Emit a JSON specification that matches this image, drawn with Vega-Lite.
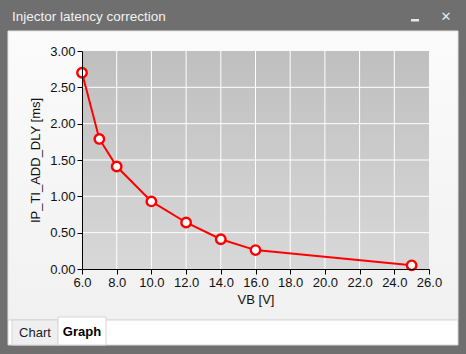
{
  "$schema": "https://vega.github.io/schema/vega-lite/v6.json",
  "autosize": {"type": "none"},
  "width": 347,
  "height": 218,
  "padding": {"left": 82, "top": 51, "right": 37, "bottom": 85},
  "background": "#6f6f6f",
  "title": {
    "text": "Injector latency correction",
    "anchor": "start",
    "frame": "group",
    "dx": -70,
    "dy": 17,
    "color": "#f2f2f2",
    "font": "Liberation Sans",
    "fontSize": 13.5,
    "fontWeight": "normal"
  },
  "config": {
    "view": {"stroke": null},
    "axis": {"labelFont": "Liberation Sans", "titleFont": "Liberation Sans", "labelOverlap": false, "labelFlush": false, "grid": false, "domainColor": "#000000", "tickColor": "#000000", "tickSize": 5, "labelColor": "#111111", "labelFontSize": 13, "labelPadding": 2, "titleFontSize": 13, "titleFontWeight": "normal", "titleColor": "#111111"},
    "axisX": {"titlePadding": 4},
    "axisY": {"titlePadding": 7}
  },
  "layer": [
    {
      "data": {"values": [{}]},
      "mark": {"type": "rect", "fill": {"gradient": "linear", "x1": 0, "y1": 0, "x2": 0, "y2": 1, "stops": [{"offset": 0, "color": "#fbfbfb"}, {"offset": 1, "color": "#f1f1f1"}]}, "stroke": "#e2e2e2", "strokeWidth": 1},
      "encoding": {
        "x": {"datum": 1.735, "type": "quantitative", "scale": {"domain": [6, 26], "nice": false, "zero": false}, "axis": {"values": [6, 8, 10, 12, 14, 16, 18, 20, 22, 24, 26], "format": ".1f", "labelOverlap": false, "title": "VB [V]", "zindex": 1}},
        "x2": {"datum": 27.671},
        "y": {"datum": 3.2752, "type": "quantitative", "scale": {"domain": [0, 3], "nice": false, "zero": false}, "axis": {"values": [0, 0.5, 1, 1.5, 2, 2.5, 3], "format": ".2f", "labelOverlap": false, "title": "IP_TI_ADD_DLY [ms]", "zindex": 1}},
        "y2": {"datum": -0.7018}
      }
    },
    {
      "data": {"values": [{}]},
      "mark": {"type": "rect", "fill": "#ffffff", "stroke": "#d6d6d6", "strokeWidth": 1},
      "encoding": {
        "x": {"datum": 1.735, "type": "quantitative", "axis": {"values": [6, 8, 10, 12, 14, 16, 18, 20, 22, 24, 26], "format": ".1f", "labelOverlap": false, "title": "VB [V]", "zindex": 1}},
        "x2": {"datum": 27.671},
        "y": {"datum": -0.7018, "type": "quantitative", "axis": {"values": [0, 0.5, 1, 1.5, 2, 2.5, 3], "format": ".2f", "labelOverlap": false, "title": "IP_TI_ADD_DLY [ms]", "zindex": 1}},
        "y2": {"datum": -1.0459}
      }
    },
    {
      "data": {"values": [{}]},
      "mark": {"type": "rect", "fill": "#efefef", "stroke": "#d6d6d6", "strokeWidth": 1},
      "encoding": {
        "x": {"datum": 1.965, "type": "quantitative", "axis": {"values": [6, 8, 10, 12, 14, 16, 18, 20, 22, 24, 26], "format": ".1f", "labelOverlap": false, "title": "VB [V]", "zindex": 1}},
        "x2": {"datum": 4.617},
        "y": {"datum": -0.7018, "type": "quantitative", "axis": {"values": [0, 0.5, 1, 1.5, 2, 2.5, 3], "format": ".2f", "labelOverlap": false, "title": "IP_TI_ADD_DLY [ms]", "zindex": 1}},
        "y2": {"datum": -1.0459}
      }
    },
    {
      "data": {"values": [{}]},
      "mark": {"type": "rect", "fill": "#ffffff", "stroke": "#d6d6d6", "strokeWidth": 1},
      "encoding": {
        "x": {"datum": 4.617, "type": "quantitative", "axis": {"values": [6, 8, 10, 12, 14, 16, 18, 20, 22, 24, 26], "format": ".1f", "labelOverlap": false, "title": "VB [V]", "zindex": 1}},
        "x2": {"datum": 7.383},
        "y": {"datum": -0.6606, "type": "quantitative", "axis": {"values": [0, 0.5, 1, 1.5, 2, 2.5, 3], "format": ".2f", "labelOverlap": false, "title": "IP_TI_ADD_DLY [ms]", "zindex": 1}},
        "y2": {"datum": -1.0459}
      }
    },
    {
      "data": {"values": [{"tab": "Chart"}]},
      "mark": {"type": "text", "font": "Liberation Sans", "fontSize": 13, "color": "#1a1a2a", "baseline": "middle", "align": "center"},
      "encoding": {
        "x": {"datum": 3.291, "type": "quantitative", "axis": {"values": [6, 8, 10, 12, 14, 16, 18, 20, 22, 24, 26], "format": ".1f", "labelOverlap": false, "title": "VB [V]", "zindex": 1}},
        "y": {"datum": -0.881, "type": "quantitative", "axis": {"values": [0, 0.5, 1, 1.5, 2, 2.5, 3], "format": ".2f", "labelOverlap": false, "title": "IP_TI_ADD_DLY [ms]", "zindex": 1}},
        "text": {"field": "tab"}
      }
    },
    {
      "data": {"values": [{"tab": "Graph"}]},
      "mark": {"type": "text", "font": "Liberation Sans", "fontSize": 13, "fontWeight": "bold", "color": "#000000", "baseline": "middle", "align": "center"},
      "encoding": {
        "x": {"datum": 6.0, "type": "quantitative", "axis": {"values": [6, 8, 10, 12, 14, 16, 18, 20, 22, 24, 26], "format": ".1f", "labelOverlap": false, "title": "VB [V]", "zindex": 1}},
        "y": {"datum": -0.867, "type": "quantitative", "axis": {"values": [0, 0.5, 1, 1.5, 2, 2.5, 3], "format": ".2f", "labelOverlap": false, "title": "IP_TI_ADD_DLY [ms]", "zindex": 1}},
        "text": {"field": "tab"}
      }
    },
    {
      "data": {"values": [{}]},
      "mark": {"type": "rect", "fill": {"gradient": "linear", "x1": 0, "y1": 0, "x2": 0, "y2": 1, "stops": [{"offset": 0, "color": "#bfbfbf"}, {"offset": 1, "color": "#d8d8d8"}]}},
      "encoding": {
        "x": {"datum": 6, "type": "quantitative", "axis": {"values": [6, 8, 10, 12, 14, 16, 18, 20, 22, 24, 26], "format": ".1f", "labelOverlap": false, "title": "VB [V]", "zindex": 1}},
        "x2": {"datum": 26},
        "y": {"datum": 3, "type": "quantitative", "axis": {"values": [0, 0.5, 1, 1.5, 2, 2.5, 3], "format": ".2f", "labelOverlap": false, "title": "IP_TI_ADD_DLY [ms]", "zindex": 1}},
        "y2": {"datum": 0}
      }
    },
    {
      "data": {"values": [{"gx": 8}, {"gx": 10}, {"gx": 12}, {"gx": 14}, {"gx": 16}, {"gx": 18}, {"gx": 20}, {"gx": 22}, {"gx": 24}]},
      "mark": {"type": "rule", "color": "#ffffff", "strokeWidth": 1},
      "encoding": {
        "x": {"field": "gx", "type": "quantitative", "axis": {"values": [6, 8, 10, 12, 14, 16, 18, 20, 22, 24, 26], "format": ".1f", "labelOverlap": false, "title": "VB [V]", "zindex": 1}},
        "y": {"datum": 0, "type": "quantitative", "axis": {"values": [0, 0.5, 1, 1.5, 2, 2.5, 3], "format": ".2f", "labelOverlap": false, "title": "IP_TI_ADD_DLY [ms]", "zindex": 1}},
        "y2": {"datum": 3}
      }
    },
    {
      "data": {"values": [{"gy": 0.5}, {"gy": 1.0}, {"gy": 1.5}, {"gy": 2.0}, {"gy": 2.5}]},
      "mark": {"type": "rule", "color": "#ffffff", "strokeWidth": 1},
      "encoding": {
        "y": {"field": "gy", "type": "quantitative", "axis": {"values": [0, 0.5, 1, 1.5, 2, 2.5, 3], "format": ".2f", "labelOverlap": false, "title": "IP_TI_ADD_DLY [ms]", "zindex": 1}},
        "x": {"datum": 6, "type": "quantitative", "axis": {"values": [6, 8, 10, 12, 14, 16, 18, 20, 22, 24, 26], "format": ".1f", "labelOverlap": false, "title": "VB [V]", "zindex": 1}},
        "x2": {"datum": 26}
      }
    },
    {
      "data": {"values": [
        {"VB": 6, "DLY": 2.70},
        {"VB": 7, "DLY": 1.79},
        {"VB": 8, "DLY": 1.41},
        {"VB": 10, "DLY": 0.93},
        {"VB": 12, "DLY": 0.64},
        {"VB": 14, "DLY": 0.41},
        {"VB": 16, "DLY": 0.26},
        {"VB": 25, "DLY": 0.05}
      ]},
      "layer": [
        {
          "mark": {"type": "line", "color": "#ff0000", "strokeWidth": 2},
          "encoding": {
            "x": {"field": "VB", "type": "quantitative", "axis": {"values": [6, 8, 10, 12, 14, 16, 18, 20, 22, 24, 26], "format": ".1f", "labelOverlap": false, "title": "VB [V]", "zindex": 1}},
            "y": {"field": "DLY", "type": "quantitative", "axis": {"values": [0, 0.5, 1, 1.5, 2, 2.5, 3], "format": ".2f", "labelOverlap": false, "title": "IP_TI_ADD_DLY [ms]", "zindex": 1}}
          }
        },
        {
          "mark": {"type": "point", "filled": false, "fill": "#ffffff", "fillOpacity": 1, "stroke": "#ff0000", "strokeWidth": 2.4, "size": 90, "opacity": 1},
          "encoding": {
            "x": {"field": "VB", "type": "quantitative", "axis": {"values": [6, 8, 10, 12, 14, 16, 18, 20, 22, 24, 26], "format": ".1f", "labelOverlap": false, "title": "VB [V]", "zindex": 1}},
            "y": {"field": "DLY", "type": "quantitative", "axis": {"values": [0, 0.5, 1, 1.5, 2, 2.5, 3], "format": ".2f", "labelOverlap": false, "title": "IP_TI_ADD_DLY [ms]", "zindex": 1}}
          }
        }
      ]
    },
    {
      "data": {"values": [{}]},
      "mark": {"type": "rect", "fill": "#e8e8e8"},
      "encoding": {
        "x": {"datum": 24.963, "type": "quantitative", "axis": {"values": [6, 8, 10, 12, 14, 16, 18, 20, 22, 24, 26], "format": ".1f", "labelOverlap": false, "title": "VB [V]", "zindex": 1}},
        "x2": {"datum": 25.424},
        "y": {"datum": 3.440, "type": "quantitative", "axis": {"values": [0, 0.5, 1, 1.5, 2, 2.5, 3], "format": ".2f", "labelOverlap": false, "title": "IP_TI_ADD_DLY [ms]", "zindex": 1}},
        "y2": {"datum": 3.406}
      }
    },
    {
      "data": {"values": [{"icon": "✕"}]},
      "mark": {"type": "text", "font": "DejaVu Sans", "fontSize": 13, "fontWeight": "bold", "color": "#e8e8e8", "baseline": "middle", "align": "center"},
      "encoding": {
        "x": {"datum": 26.98, "type": "quantitative", "axis": {"values": [6, 8, 10, 12, 14, 16, 18, 20, 22, 24, 26], "format": ".1f", "labelOverlap": false, "title": "VB [V]", "zindex": 1}},
        "y": {"datum": 3.468, "type": "quantitative", "axis": {"values": [0, 0.5, 1, 1.5, 2, 2.5, 3], "format": ".2f", "labelOverlap": false, "title": "IP_TI_ADD_DLY [ms]", "zindex": 1}},
        "text": {"field": "icon"}
      }
    }
  ]
}
